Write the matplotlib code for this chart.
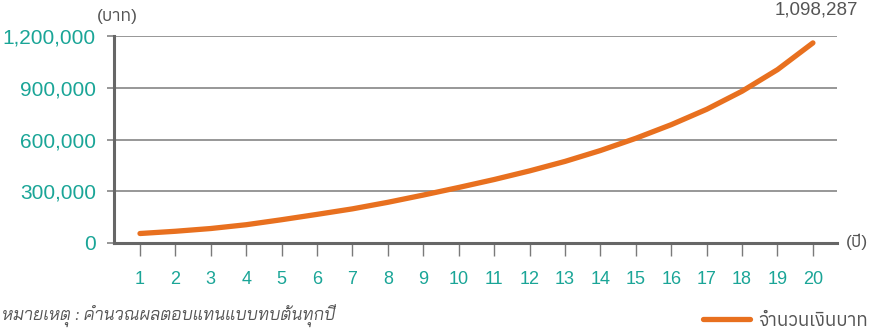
import matplotlib
matplotlib.use("Agg")
import matplotlib.pyplot as plt
from matplotlib.ticker import FuncFormatter

# Colours
COLOR_LINE = '#E8701F'
COLOR_TICK = '#1AA597'
COLOR_TEXT = '#555555'
COLOR_GRID = '#7a7a7a'
COLOR_AXIS = '#666666'

FONT = ['Liberation Sans', 'Anuphan']

years = list(range(1, 21))
# accumulated amount (baht)
amounts = [55000, 68000, 84000, 106000, 135000, 166000, 198000, 236000, 278000, 322000,
           368000, 418000, 473000, 536000, 607000, 686000, 775000, 880000, 1005000, 1160000]
y_ticks = [0, 300000, 600000, 900000, 1200000]
final_amount = 1098287

series_label = 'จำนวนเงินบาท'
y_unit = '(บาท)'
x_unit = '(ปี)'
note = 'หมายเหตุ : คำนวณผลตอบแทนแบบทบต้นทุกปี'

plt.rcParams['font.family'] = FONT

fig = plt.figure(figsize=(8.73, 3.30), dpi=100)
ax = fig.add_axes([114 / 873, 1 - 243 / 330, 723 / 873, 207 / 330])

line, = ax.plot(years, amounts, color=COLOR_LINE, lw=3.8, solid_capstyle='round',
                solid_joinstyle='round', label=series_label, zorder=3)

ax.set_xlim(0.266, 20.68)
ax.set_ylim(0, 1200000)
ax.set_xticks(years)
ax.set_yticks(y_ticks)
ax.yaxis.set_major_formatter(FuncFormatter(lambda v, p: f'{int(v):,}'))

ax.grid(axis='y', color=COLOR_GRID, lw=1.1)
ax.set_axisbelow(True)
for s in ['top', 'right']:
    ax.spines[s].set_visible(False)
for s in ['left', 'bottom']:
    ax.spines[s].set_color(COLOR_AXIS)
    ax.spines[s].set_linewidth(2.2)

ax.tick_params(axis='x', length=9, width=1, color=COLOR_GRID, pad=11,
               labelsize=13, labelcolor=COLOR_TICK)
ax.tick_params(axis='y', length=5, width=1.1, color=COLOR_GRID, pad=8,
               labelsize=15, labelcolor=COLOR_TICK)

# value at the end of the line
ax.text(20.1, 1.0 + 26 / 207, f'{final_amount:,}', transform=ax.get_xaxis_transform(),
        ha='center', va='center', fontsize=13.5, color=COLOR_TEXT)

fig.text(117 / 873, 1 - 17 / 330, y_unit, ha='center', va='center', fontsize=12.5, color=COLOR_TEXT)
fig.text(857 / 873, 1 - 242 / 330, x_unit, ha='center', va='center', fontsize=12.5, color=COLOR_TEXT)
fig.text(2 / 873, 1 - 316 / 330, note, ha='left', va='center', fontsize=12.5,
         color=COLOR_TEXT, family=['Bai Jamjuree', 'Liberation Sans'], style='italic')

fig.legend(handles=[line], loc='center right', bbox_to_anchor=(868 / 873, 1 - 321 / 330),
           frameon=False, fontsize=13.5, handlelength=2.5, handletextpad=0.45,
           labelcolor=COLOR_TEXT, borderaxespad=0, borderpad=0)

fig.savefig('out.png', dpi=100)
plt.close(fig)
